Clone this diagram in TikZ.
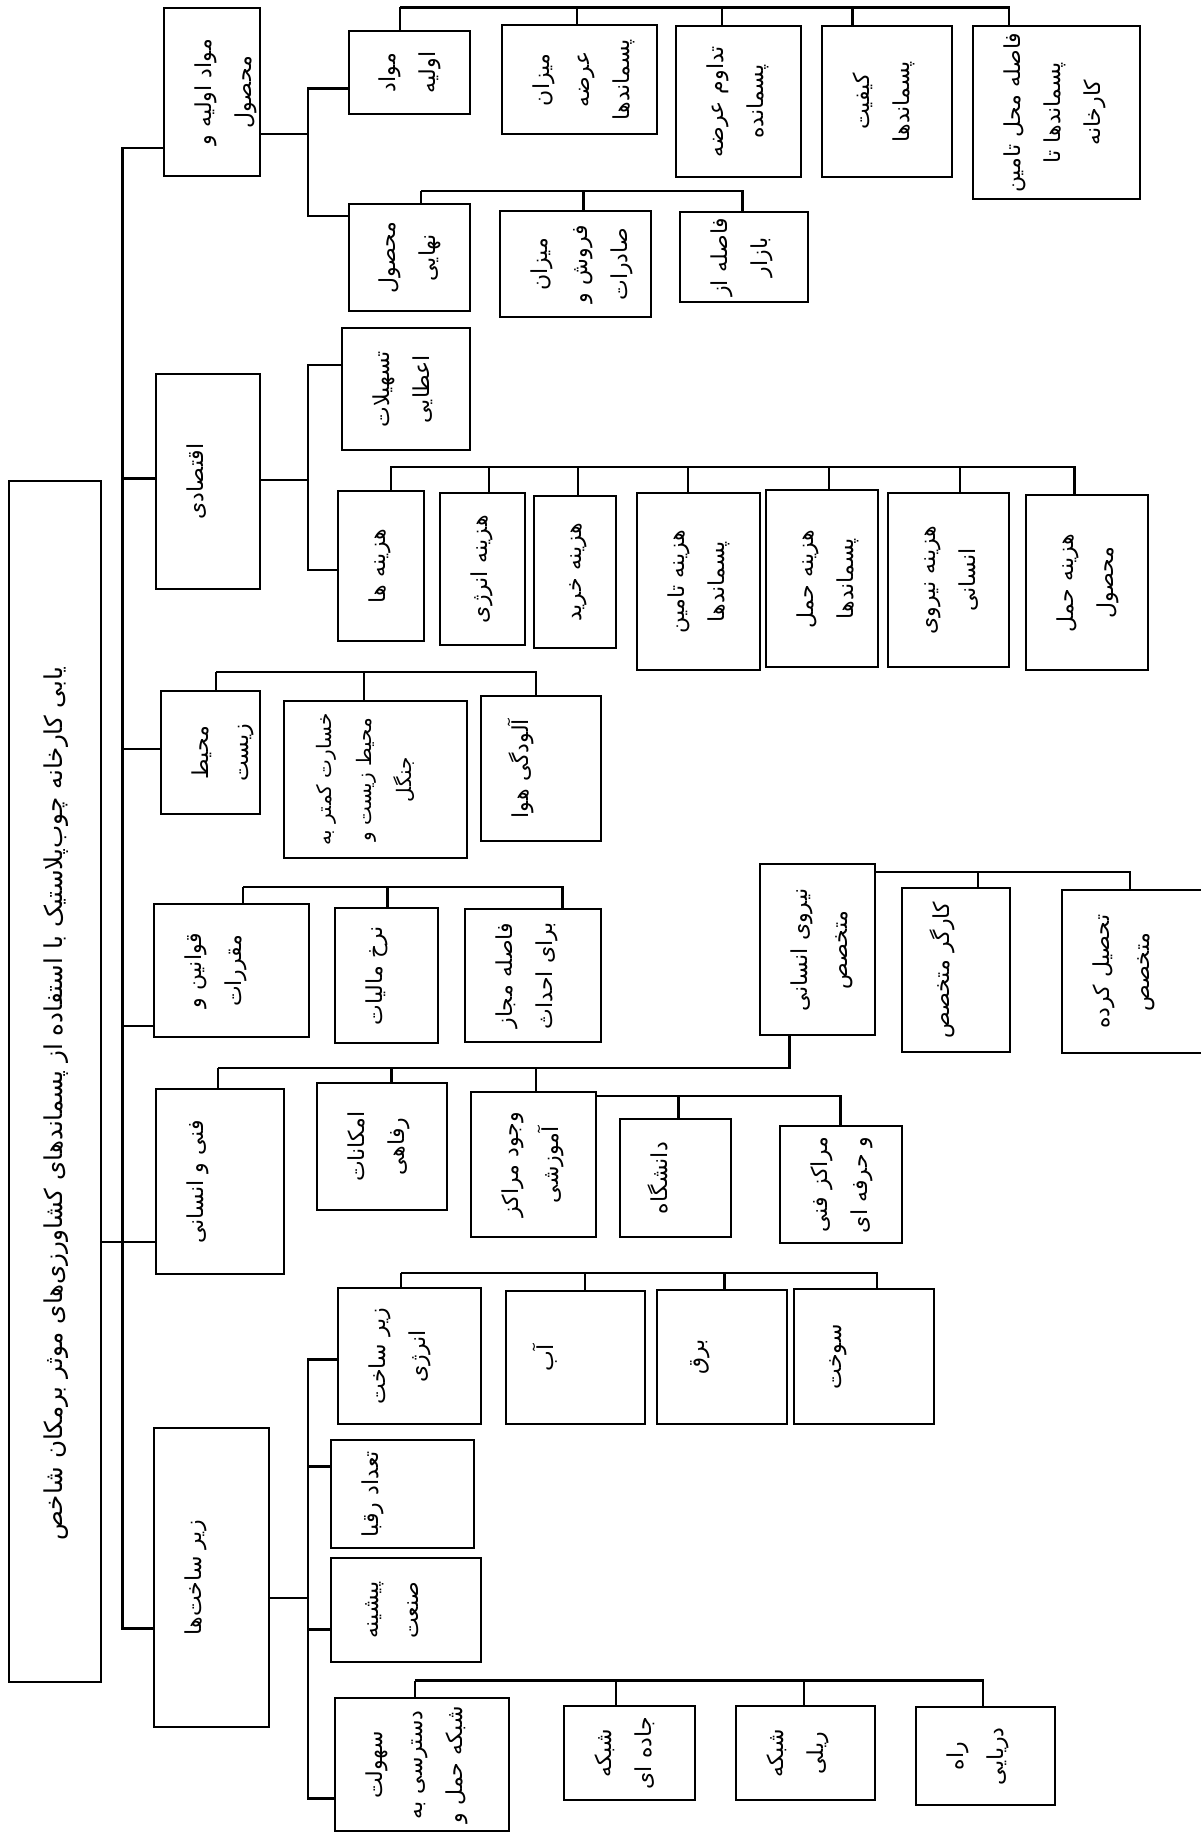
\documentclass[tikz,border=0pt]{standalone}
\usepackage{fontspec}
\usepackage{graphicx}
\usepackage{tikz}
\newfontfamily\fafont[Script=Arabic]{DejaVu Sans}
\TeXXeTstate=1
% vertical text, one row per line
\newcommand{\vt}[1]{\rotatebox{90}{\begin{tabular}{@{}c@{}}#1\end{tabular}}}

\begin{document}
\begin{tikzpicture}[
  x=0.5pt, y=-0.5pt,
  box/.style     = {draw, line width=1.2pt, anchor=north west,
                    inner xsep=9.5pt, inner ysep=0pt, align=left,
                    font=\fafont\fontsize{11}{20}\selectfont},
  rootbox/.style = {draw, line width=0.8pt, anchor=north west, inner sep=0pt,
                    font=\fafont\fontsize{12.3}{20}\selectfont},
  wh/.code 2 args = {\pgfmathsetlengthmacro\boxtw{(#1)*0.5pt-19pt}%
                     \pgfmathsetlengthmacro\boxmh{(#2)*0.5pt}%
                     \pgfkeysalso{text width=\boxtw, minimum height=\boxmh}},
  conn/.style    = {line width=1.2pt},
]
\useasboundingbox (0,0) rectangle (1200,1832);

% Root
\node[rootbox, minimum width=46pt, minimum height=600.5pt] (root) at (8,480)
  {\vt{\beginR\hspace*{22pt}یابی  کارخانه چوب‌پلاستیک با استفاده از پسماندهای  کشاورزی‌های موثر برمکان شاخص\endR}};

% Level 1 – criteria
\node[box, wh={96}{168}]  (raw)  at (163,7)    {\vt{\beginR مواد اولیه و\endR\\\beginR محصول\endR}};
\node[box, wh={104}{215}] (eco)  at (155,373)  {\vt{\beginR اقتصادی\endR}};
\node[box, wh={99}{123}]  (env)  at (160,690)  {\vt{\beginR محیط\endR\\\beginR زیست\endR}};
\node[box, wh={155}{133}] (law)  at (153,903)  {\vt{\beginR قوانین و\endR\\\beginR مقررات\endR}};
\node[box, wh={128}{185}] (tech) at (155,1088) {\vt{\beginR فنی و انسانی\endR}};
\node[box, wh={115}{299}] (inf)  at (153,1427) {\vt{\beginR زیر ساخت‌ها\endR}};

% Raw material and product
\node[box, wh={121}{83}]  (mat)    at (347.5,30) {\vt{\beginR مواد\endR\\\beginR اولیه\endR}};
\node[box, wh={121}{107}] (prod)   at (347.5,203) {\vt{\beginR محصول\endR\\\beginR نهایی\endR}};
\node[box, wh={155}{109}] (supply) at (501,24)  {\vt{\beginR میزان\endR\\\beginR عرضه\endR\\\beginR پسماندها\endR}};
\node[box, wh={125}{151}] (cont)   at (675,25)  {\vt{\beginR تداوم عرضه\endR\\\beginR پسمانده\endR}};
\node[box, wh={130}{151}] (qual)   at (821,25)  {\vt{\beginR کیفیت\endR\\\beginR پسماندها\endR}};
\node[box, wh={167}{173}] (dist)   at (972,25)  {\vt{\beginR فاصله محل تامین\endR\\\beginR پسماندها تا\endR\\\beginR کارخانه\endR}};
\node[box, wh={151}{106}] (sale)   at (499,210) {\vt{\beginR میزان\endR\\\beginR فروش و\endR\\\beginR صادرات\endR}};
\node[box, wh={128}{90}]  (mkt)    at (679,211) {\vt{\beginR فاصله از\endR\\\beginR بازار\endR}};

% Economic
\node[box, wh={128}{122}] (fac)  at (341,327)  {\vt{\beginR تسهیلات\endR\\\beginR اعطایی\endR}};
\node[box, wh={86}{150}]  (cost) at (337,490)  {\vt{\beginR هزینه ها\endR}};
\node[box, wh={85}{152}]  (cen)  at (439,492)  {\vt{\beginR هزینه انرژی\endR}};
\node[box, wh={82}{152}]  (cbuy) at (533,495)  {\vt{\beginR هزینه خرید\endR}};
\node[box, wh={123}{177}] (csup) at (636,492)  {\vt{\beginR هزینه تامین\endR\\\beginR پسماندها\endR}};
\node[box, wh={112}{177}] (ctrw) at (765,489)  {\vt{\beginR هزینه حمل\endR\\\beginR پسماندها\endR}};
\node[box, wh={121}{174}] (clab) at (887,492)  {\vt{\beginR هزینه نیروی\endR\\\beginR انسانی\endR}};
\node[box, wh={122}{175}] (ctrp) at (1025,494) {\vt{\beginR هزینه حمل\endR\\\beginR محصول\endR}};

% Environment and law
\node[box, wh={183}{157}, font=\fafont\fontsize{10}{20}\selectfont] (dmg) at (283,700)
  {\vt{\beginR خسارت کمتر به\endR\\\beginR محیط زیست و\endR\\\beginR جنگل\endR}};
\node[box, wh={120}{145}] (air)   at (480,695) {\vt{\beginR آلودگی هوا\endR}};
\node[box, wh={103}{135}] (tax)   at (334,907) {\vt{\beginR نرخ مالیات\endR}};
\node[box, wh={136}{133}] (ldist) at (464,908) {\vt{\beginR فاصله مجاز\endR\\\beginR برای احداث\endR}};

% Technical and human
\node[box, wh={130}{127}] (wel)  at (316,1082) {\vt{\beginR امکانات\endR\\\beginR رفاهی\endR}};
\node[box, wh={125}{145}] (edu)  at (470,1091) {\vt{\beginR وجود مراکز\endR\\\beginR آموزشی\endR}};
\node[box, wh={111}{118}] (uni)  at (619,1118) {\vt{\beginR دانشگاه\endR}};
\node[box, wh={122}{117}] (voc)  at (779,1125) {\vt{\beginR مراکز فنی\endR\\\beginR و حرفه ای\endR}};
\node[box, wh={115}{171}] (hr)   at (759,863)  {\vt{\beginR نیروی انسانی\endR\\\beginR متخصص\endR}};
\node[box, wh={108}{164}] (wrk)  at (901,887)  {\vt{\beginR کارگر متخصص\endR}};
\node[box, wh={150}{163}] (grad) at (1061,889) {\vt{\beginR تحصیل کرده\endR\\\beginR متخصص\endR}};

% Infrastructure
\node[box, wh={143}{136}] (ien)   at (337,1287) {\vt{\beginR زیر ساخت\endR\\\beginR انرژی\endR}};
\node[box, wh={143}{108}] (comp)  at (330,1439) {\vt{\beginR تعداد رقبا\endR}};
\node[box, wh={150}{104}] (hist)  at (330,1557) {\vt{\beginR پیشینه\endR\\\beginR صنعت\endR}};
\node[box, wh={174}{133}] (acc)   at (334,1697) {\vt{\beginR سهولت\endR\\\beginR دسترسی به\endR\\\beginR شبکه حمل و\endR}};
\node[box, wh={139}{133}] (water) at (505,1290) {\vt{\beginR آب\endR}};
\node[box, wh={130}{134}] (elec)  at (656,1289) {\vt{\beginR برق\endR}};
\node[box, wh={140}{135}] (fuel)  at (793,1288) {\vt{\beginR سوخت\endR}};
\node[box, wh={131}{94}]  (road)  at (563,1705) {\vt{\beginR شبکه\endR\\\beginR جاده ای\endR}};
\node[box, wh={139}{94}]  (rail)  at (735,1705) {\vt{\beginR شبکه\endR\\\beginR ریلی\endR}};
\node[box, wh={139}{98}]  (sea)   at (915,1706) {\vt{\beginR راه\endR\\\beginR دریایی\endR}};

% Trunk
\coordinate (trunk) at (122.5,1242);
\draw[conn] (root.east |- trunk) -- (trunk);
\foreach \n/\y in {raw/147.7, eco/478.3, env/749, law/1026, tech/1242, inf/1628.6}
  \draw[conn] (\n.west |- 0,\y) -| (trunk);

% Side buses
\coordinate (v-raw) at (308,133.7);
\coordinate (v-eco) at (308,480);
\coordinate (v-inf) at (308,1597.8);
\draw[conn] (raw.east |- v-raw) -- (v-raw);
\draw[conn] (eco.east |- v-eco) -- (v-eco);
\draw[conn] (inf.east |- v-inf) -- (v-inf);
\foreach \n/\y in {mat/88.3, prod/216}
  \draw[conn] (\n.west |- 0,\y) -| (v-raw);
\foreach \n/\y in {fac/365, cost/570}
  \draw[conn] (\n.west |- 0,\y) -| (v-eco);
\foreach \n/\y in {ien/1359.5, comp/1466.4, hist/1629.4, acc/1798.6}
  \draw[conn] (\n.west |- 0,\y) -| (v-inf);

% Top buses
\coordinate (b-mat)  at (400,7.3);
\coordinate (b-prod) at (421,191);
\coordinate (b-cost) at (390,467);
\coordinate (b-env)  at (216,672);
\coordinate (b-law)  at (243,887);
\coordinate (b-tech) at (218,1068);
\coordinate (b-edu)  at (595,1096);
\coordinate (b-hr)   at (874,872);
\coordinate (b-ien)  at (401,1273);
\coordinate (b-acc)  at (415,1680.6);
\foreach \n/\x in {mat/400, supply/577, cont/721.7, qual/852.6, dist/1008.7}
  \draw[conn] (\n.north -| \x,0) |- (b-mat);
\foreach \n/\x in {prod/421, sale/583.6, mkt/742.4}
  \draw[conn] (\n.north -| \x,0) |- (b-prod);
\foreach \n/\x in {cost/391, cen/488.7, cbuy/577.8, csup/688, ctrw/828.8, clab/959.7, ctrp/1074.5}
  \draw[conn] (\n.north -| \x,0) |- (b-cost);
\foreach \n/\x in {env/216, dmg/364, air/535.7}
  \draw[conn] (\n.north -| \x,0) |- (b-env);
\foreach \n/\x in {law/243, tax/387.6, ldist/562.5}
  \draw[conn] (\n.north -| \x,0) |- (b-law);
\foreach \n/\x in {tech/218, wel/391.5, edu/535.7}
  \draw[conn] (\n.north -| \x,0) |- (b-tech);
\draw[conn] (hr.south -| 789.4,0) |- (b-tech);
\foreach \n/\x in {uni/678.4, voc/840.3}
  \draw[conn] (\n.north -| \x,0) |- (b-edu);
\foreach \n/\x in {wrk/978, grad/1130}
  \draw[conn] (\n.north -| \x,0) |- (b-hr);
\foreach \n/\x in {ien/401, water/584.7, elec/724.4, fuel/877}
  \draw[conn] (\n.north -| \x,0) |- (b-ien);
\foreach \n/\x in {acc/415, road/616, rail/804, sea/982.7}
  \draw[conn] (\n.north -| \x,0) |- (b-acc);
\end{tikzpicture}
\end{document}
